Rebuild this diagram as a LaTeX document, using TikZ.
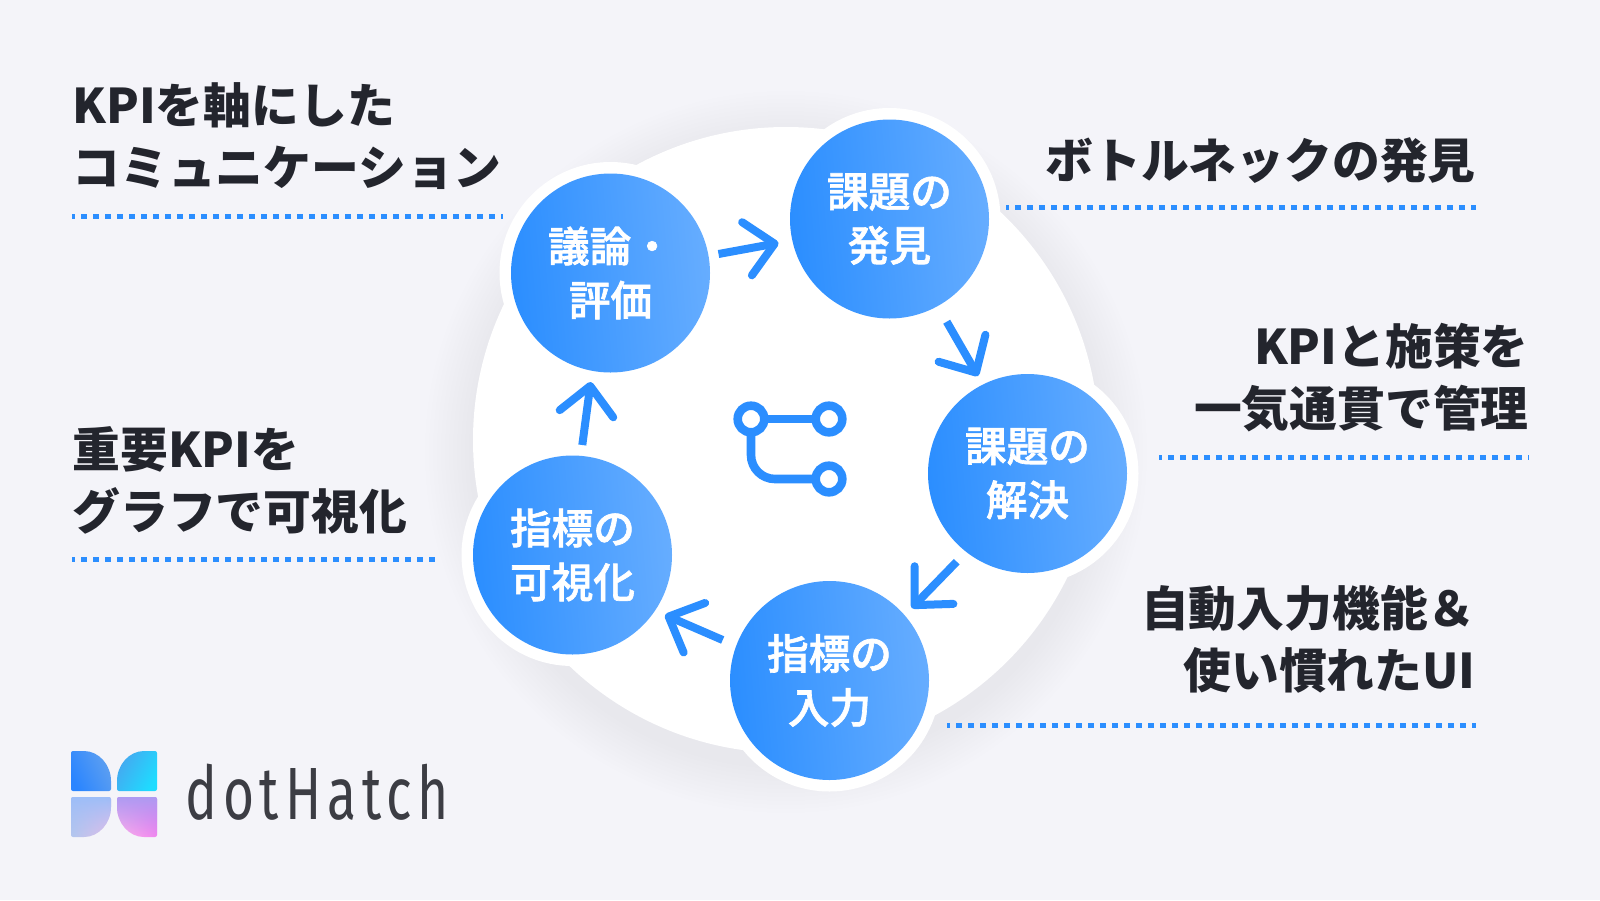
\documentclass[tikz,border=0pt]{standalone}
\usepackage{fontspec}
\setmainfont{Noto Sans CJK JP}
\newfontfamily\jpm[FakeBold=1.6]{Noto Sans CJK JP Medium}
\newfontfamily\logofont[LetterSpace=11]{Fira Sans}
\usetikzlibrary{arrows.meta,fadings}
\definecolor{bgc}{HTML}{F4F4F9}
\definecolor{blu}{HTML}{2B8EFF}
\definecolor{blu2}{HTML}{66ADFF}
\definecolor{ink}{HTML}{23252D}
\definecolor{logoink}{HTML}{3C3D44}
\tikzset{
  px/.style={x=0.5pt,y=-0.5pt},
  stepnode/.style={circle,minimum size=99.5pt,inner sep=0pt,text=white,align=center,
    left color=blu,right color=blu2,shading angle=95,
    font=\fontsize{20.8}{27}\selectfont\jpm},
  halo/.style={fill=white,draw=none},
  flow/.style={draw=blu,line width=4pt,
    -{Straight Barb[length=14pt,width=27pt,line width=4pt,round]}},
  lab/.style={text=ink,inner sep=0pt,align=left,font=\fontsize{23.9}{31}\selectfont\bfseries},
  labr/.style={lab,align=right},
  rule/.style={draw=blu,line width=2.5pt,dash pattern=on 3pt off 3pt,dash phase=1.5pt},
  ico/.style={draw=blu,line width=4.3pt}
}
\newcommand{\softshadow}[4]{%
  \foreach \s in {1,...,12}{\fill[black!75!blue,opacity=#4] (#1,#2) circle ({#3+\s*4});}%
}
\begin{document}
\begin{tikzpicture}[px]
\useasboundingbox (0,0) rectangle (1600,900);
\fill[bgc] (0,0) rectangle (1600,900);
% shadows
\softshadow{786}{452}{313}{.0028}
\softshadow{829.5}{690}{111}{.0015}
\softshadow{572.5}{565}{111}{.0015}
\softshadow{1027.5}{483}{111}{.0015}
% white disc and halos
\fill[halo] (786,440) circle (313);
\fill[halo] (610.5,273) circle (111);
\fill[halo] (889.5,219) circle (111);
\fill[halo] (1027.5,473.5) circle (111);
\fill[halo] (829.5,680.5) circle (111);
\fill[halo] (572.5,555) circle (111);
% steps
\node[stepnode] (giron) at (610.5,273) {議論・\\評価};
\node[stepnode] (hakken) at (889.5,219) {課題の\\発見};
\node[stepnode] (kaiketsu) at (1027.5,473.5) {課題の\\解決};
\node[stepnode] (nyuryoku) at (829.5,680.5) {指標の\\入力};
\node[stepnode] (kashika) at (572.5,555) {指標の\\可視化};
\draw[flow] ([shift={(108,-19)}]giron.center) -- ([shift={(-111,24)}]hakken.center);
\draw[flow] ([shift={(57.2,102.7)}]hakken.center) -- ([shift={(-49.5,-97.5)}]kaiketsu.center);
\draw[flow] ([shift={(-70.8,88.2)}]kaiketsu.center) -- ([shift={(82.2,-72.5)}]nyuryoku.center);
\draw[flow] ([shift={(-106.8,-40.5)}]nyuryoku.center) -- ([shift={(92.5,60)}]kashika.center);
\draw[flow] ([shift={(9.8,-110)}]kashika.center) -- ([shift={(-19.8,109)}]giron.center);
% centre icon
\draw[ico,rounded corners=12pt] (751,419) -- (751,479) -- (829,479);
\draw[ico] (751,419) -- (829,419);
\foreach \n/\p in {ia/{751,419},ib/{829,419},ic/{829,479}}{
  \node[circle,ico,fill=white,minimum size=13.3pt,inner sep=0pt] (\n) at (\p) {};
}
% labels
\node[lab,anchor=base west] (l1) at (72,185) {KPIを軸にした\\コミュニケーション};
\node[labr,anchor=base east] (r1) at (1476,178) {ボトルネックの発見};
\node[labr,anchor=base east] (r2) at (1529,426) {KPIと施策を\\一気通貫で管理};
\node[lab,anchor=base west] (l2) at (72,529) {重要KPIを\\グラフで可視化};
\node[labr,anchor=base east] (r3) at (1476,688) {自動入力機能＆\\使い慣れたUI};
% dotted rules
\coordinate (a1) at (72,216.5); \coordinate (a2) at (503,216.5);
\coordinate (b1) at (1006,207); \coordinate (b2) at (1476,207);
\coordinate (c1) at (1159,457); \coordinate (c2) at (1529,457);
\coordinate (d1) at (72,559); \coordinate (d2) at (436,559);
\coordinate (e1) at (947,725.5); \coordinate (e2) at (1476,725.5);
\draw[rule] (a1) -- (a2);
\draw[rule] (b1) -- (b2);
\draw[rule] (c1) -- (c2);
\draw[rule] (d1) -- (d2);
\draw[rule] (e1) -- (e2);
% logo
\definecolor{tla}{HTML}{2A85FF}\definecolor{tlb}{HTML}{5FA0F0}
\definecolor{tra}{HTML}{1EDCFF}\definecolor{trb}{HTML}{45A8F0}
\definecolor{bla}{HTML}{9DBEF8}\definecolor{blc}{HTML}{B5C6EE}\definecolor{blb}{HTML}{E8BDE8}
\definecolor{bra}{HTML}{AE9BF2}\definecolor{brc}{HTML}{FAAEEC}\definecolor{brb}{HTML}{EF7CF0}
\shade[left color=tla,right color=tlb,shading angle=115,rounded corners=1pt]
  (71,751) -- (82,751) .. controls (99,751) and (111,765) .. (111,783) -- (111,791) -- (71,791) -- cycle;
\shade[left color=trb,right color=tra,shading angle=60,rounded corners=1pt]
  (157,751) -- (146,751) .. controls (129,751) and (117,765) .. (117,783) -- (117,791) -- (157,791) -- cycle;
\shade[left color=blc,right color=blb,shading angle=100,rounded corners=1pt]
  (71,837) -- (82,837) .. controls (99,837) and (111,823) .. (111,805) -- (111,797) -- (71,797) -- cycle;
\fill[bla,path fading=south,rounded corners=1pt]
  (71,837) -- (82,837) .. controls (99,837) and (111,823) .. (111,805) -- (111,797) -- (71,797) -- cycle;
\shade[left color=brc,right color=brb,shading angle=110,rounded corners=1pt]
  (157,837) -- (146,837) .. controls (129,837) and (117,823) .. (117,805) -- (117,797) -- (157,797) -- cycle;
\fill[bra,path fading=south,rounded corners=1pt]
  (157,837) -- (146,837) .. controls (129,837) and (117,823) .. (117,805) -- (117,797) -- (157,797) -- cycle;
\node[anchor=base west,inner sep=0pt,text=logoink,xscale=0.72,font=\fontsize{37}{37}\selectfont\logofont] (logo) at (185,819) {dotHatch};
\end{tikzpicture}
\end{document}
